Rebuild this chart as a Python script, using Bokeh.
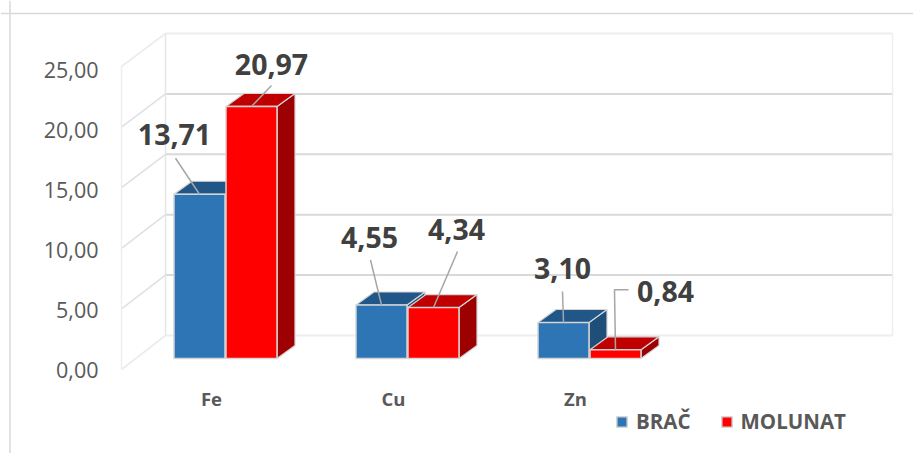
from bokeh.plotting import figure
from bokeh.models import Span, FixedTicker
from bokeh.core.properties import value
from bokeh.embed import file_html
from bokeh.resources import INLINE

categories = ["Fe", "Cu", "Zn"]
brac = [13.71, 4.55, 3.10]
molunat = [20.97, 4.34, 0.84]
brac_labels = ["13,71", "4,55", "3,10"]
molunat_labels = ["20,97", "4,34", "0,84"]
y_ticks = [0, 5, 10, 15, 20, 25]
y_tick_labels = ["0,00", "5,00", "10,00", "15,00", "20,00", "25,00"]

W, H = 913, 453
PXC, PXV = 182.0, 12.0       # px per category, px per value unit
CX0, VY0 = 211.0, 369.0      # page px of category 0 and of value 0
PAGE = 0

def cx(px):  # page pixel to x data
    return (px - CX0) / PXC
def vy(py):  # page pixel to y data
    return (VY0 - py) / PXV

p = figure(width=W, height=H, output_backend="svg", toolbar_location=None,
           x_range=(cx(PAGE), cx(PAGE + W)), y_range=(vy(PAGE + H), vy(PAGE)),
           min_border=0, min_border_left=0, min_border_right=0, min_border_top=0, min_border_bottom=0,
           outline_line_color=None, background_fill_color="white", border_fill_color="white")
p.grid.visible = False

# chart-area border
p.add_layout(Span(location=cx(9.5), dimension="height", line_color="#d9d9d9", line_width=1.5))
p.add_layout(Span(location=vy(13), dimension="width", line_color="#d9d9d9", line_width=1.5))

# 3-D walls
FX, BX, RX = cx(121), cx(165), cx(892)
def front_y(v): return vy(369 - v * 12.12)
def back_y(v): return vy(335 - v * 12.08)
for v in y_ticks:
    edge = v in (0, 25)
    col = "#eeeeee" if edge else "#d9d9d9"
    p.line([BX, RX], [back_y(v), back_y(v)], line_color=col, line_width=2)
    p.line([FX, BX], [front_y(v), back_y(v)], line_color="#ececec" if edge else "#e0e0e0", line_width=1.6)
p.line([FX, FX], [front_y(0), front_y(25)], line_color="#eeeeee", line_width=1.5)
p.line([BX, BX], [back_y(0), back_y(25)], line_color="#e6e6e6", line_width=1.5)
p.line([RX, RX], [back_y(0), back_y(25)], line_color="#eeeeee", line_width=1.5)

# bars
GROUP_LEFT, BAR_W, BAR_GAP = -37.5, 51.0, 1.0
DEPTH_X, DEPTH_Y = 18.0, 13.0
BASE_PY, TOP_B, TOP_K = 358.0, 359.5, 12.09
EDGE = "#d5d5d5"

def draw_series(values, s, front, top, side, name):
    for i, v in enumerate(values):
        l = CX0 + i * PXC + GROUP_LEFT + s * (BAR_W + BAR_GAP)
        r = l + BAR_W
        t = TOP_B - TOP_K * v
        b = BASE_PY
        p.patch([cx(r), cx(r + DEPTH_X), cx(r + DEPTH_X), cx(r)],
                [vy(b), vy(b - DEPTH_Y), vy(t - DEPTH_Y), vy(t)],
                fill_color=side, line_color=EDGE, line_width=1.2)
        p.patch([cx(l), cx(l + DEPTH_X), cx(r + DEPTH_X), cx(r)],
                [vy(t), vy(t - DEPTH_Y), vy(t - DEPTH_Y), vy(t)],
                fill_color=top, line_color=EDGE, line_width=1.2)
        kw = {"legend_label": name} if i == 0 else {}
        p.quad(left=cx(l), right=cx(r), top=vy(t), bottom=vy(b),
               fill_color=front, line_color=EDGE, line_width=1.5, **kw)

draw_series(brac, 0, "#2e75b6", "#205688", "#1f4e79", "BRAČ")
draw_series(molunat, 1, "#ff0000", "#c00000", "#9c0000", "MOLUNAT")

# data labels with leader lines: label centre relative to bar top-centre (px)
brac_offsets = [(-25, -60), (-12, -67), (-1, -54)]
molunat_offsets = [(20, -42), (23, -78), (50, -58)]
brac_leaders = [(-24, -36), (-11, -45), (-1, -31)]
molunat_leaders = [(20, -21), (24, -56), (-1, -60)]

def draw_labels(values, labels, s, offsets, leaders):
    for i, (v, txt) in enumerate(zip(values, labels)):
        cxp = CX0 + i * PXC + GROUP_LEFT + s * (BAR_W + BAR_GAP) + BAR_W / 2
        t = TOP_B - TOP_K * v
        lx, ly = leaders[i]
        xs, ys = [cx(cxp), cx(cxp + lx)], [vy(t), vy(t + ly)]
        if s == 1 and i == 2:
            xs += [cx(cxp + lx + 14)]
            ys += [vy(t + ly)]
        p.line(xs, ys, line_color="#a6a6a6", line_width=1.5)
        ox, oy = offsets[i]
        p.text([cx(cxp + ox)], [vy(t + oy)], text=[txt], text_font=value("Open Sans"),
               text_font_style="bold", text_font_size="28.5px", text_color="#404040",
               text_align="center", text_baseline="middle")

draw_labels(brac, brac_labels, 0, brac_offsets, brac_leaders)
draw_labels(molunat, molunat_labels, 1, molunat_offsets, molunat_leaders)

# axes inside the frame
ya = p.yaxis[0]
ya.fixed_location = FX
ya.ticker = FixedTicker(ticks=y_ticks)
ya.major_label_overrides = dict(zip(y_ticks, y_tick_labels))
ya.axis_line_color = None
ya.major_tick_line_color = None
ya.minor_tick_line_color = None
ya.major_label_standoff = 17
ya.major_label_text_font = "Open Sans"
ya.major_label_text_font_size = "21.5px"
ya.major_label_text_color = "#595959"

xa = p.xaxis[0]
xa.fixed_location = 0
xa.ticker = FixedTicker(ticks=list(range(len(categories))))
xa.major_label_overrides = dict(enumerate(categories))
xa.axis_line_color = None
xa.major_tick_line_color = None
xa.minor_tick_line_color = None
xa.major_label_standoff = 10
xa.major_label_text_font = "Open Sans"
xa.major_label_text_font_style = "bold"
xa.major_label_text_font_size = "18.5px"
xa.major_label_text_color = "#595959"

# legend
lg = p.legend[0]
lg.orientation = "horizontal"
lg.location = (615, 18)
lg.background_fill_alpha = 0
lg.border_line_color = None
lg.glyph_width = 13
lg.glyph_height = 13
lg.label_standoff = 8
lg.spacing = 29
lg.padding = 5
lg.margin = 0
lg.label_text_font = "Open Sans"
lg.label_text_font_style = "bold"
lg.label_text_font_size = "20.5px"
lg.label_text_color = "#595959"

open("out.html", "w").write(file_html(p, INLINE))
